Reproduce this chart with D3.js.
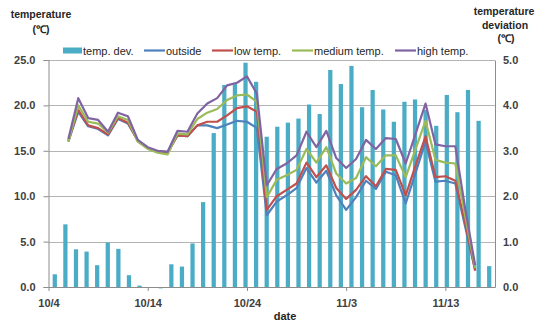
<!DOCTYPE html>
<html>
<head>
<meta charset="utf-8">
<script src="https://cdn.jsdelivr.net/npm/d3@7"></script>
<style>
  html, body { margin: 0; padding: 0; background: #fff; }
  svg { display: block; }
  text { font-family: "Liberation Sans", Arial, sans-serif; }
</style>
</head>
<body>
<svg id="chart" width="537" height="323"></svg>
<script>
// Daily readings, 10/6 .. 11/16
const dates = ["10/6","10/7","10/8","10/9","10/10","10/11","10/12","10/13","10/14","10/15",
  "10/16","10/17","10/18","10/19","10/20","10/21","10/22","10/23","10/24","10/25",
  "10/26","10/27","10/28","10/29","10/30","10/31","11/1","11/2","11/3","11/4",
  "11/5","11/6","11/7","11/8","11/9","11/10","11/11","11/12","11/13","11/14",
  "11/15","11/16"];

// temperature deviation (right axis, ℃)
const tempDev = [0.28,1.38,0.83,0.78,0.48,0.98,0.84,0.26,0.03,-0.02,
  -0.03,0.50,0.45,0.96,1.87,3.39,4.45,4.47,4.94,4.52,
  3.31,3.53,3.62,3.71,4.02,3.81,4.78,4.47,4.87,3.96,
  4.34,3.91,3.64,4.08,4.13,3.90,3.55,4.23,3.85,4.34,
  3.66,0.46];

// temperatures (left axis, ℃)
const outside = [16.0,19.3,17.7,17.4,16.7,18.5,18.0,16.1,15.3,14.9,
  14.8,16.7,16.6,17.8,17.8,17.5,17.9,18.3,18.2,17.5,
  7.9,9.4,10.1,10.9,13.1,11.5,12.8,10.1,8.5,9.9,
  11.7,10.8,12.7,12.3,9.2,12.6,16.0,11.6,11.7,11.4,
  6.6,1.9];
const lowTemp = [16.1,19.5,17.8,17.5,16.8,18.6,18.1,16.1,15.3,14.9,
  14.8,16.7,16.6,17.8,18.2,18.2,18.9,19.7,19.9,19.3,
  8.5,10.0,10.7,11.4,13.7,12.1,13.4,10.9,9.7,10.7,
  12.2,11.1,13.0,12.9,10.1,13.4,16.6,12.1,12.2,11.7,
  7.0,1.8];
const mediumTemp = [16.0,20.0,18.2,18.0,17.0,18.8,18.4,16.0,15.2,14.8,
  14.6,16.9,16.8,18.5,19.2,19.6,20.6,21.1,21.2,20.4,
  9.9,11.8,12.3,12.9,15.2,13.7,15.4,12.5,11.4,12.0,
  14.3,13.3,14.5,14.5,12.1,15.2,18.3,14.0,13.7,13.6,
  7.8,2.1];
const highTemp = [16.3,20.8,18.6,18.4,17.1,19.2,18.8,16.2,15.4,15.0,
  14.9,17.2,17.1,19.1,20.2,20.8,22.2,22.5,23.2,21.3,
  11.2,13.0,13.6,14.5,17.1,15.4,17.2,14.2,13.1,14.1,
  16.2,15.2,16.4,16.3,13.6,16.9,20.2,15.7,15.5,15.5,
  8.6,2.4];

const dateTicks = ["10/4","10/14","10/24","11/3","11/13"];
const leftTicks = [0, 5, 10, 15, 20, 25];
const rightTicks = [0, 1, 2, 3, 4, 5];

const seriesNames = ["outside", "low temp.", "medium temp.", "high temp."];
const seriesColors = ["#4f81bd", "#c0504d", "#9bbb59", "#8064a2"];
const barColor = "#4bacc6";

const YEAR = 2012;
const parseMD = s => { const [m, d] = s.split("/").map(Number); return new Date(YEAR, m - 1, d); };

const svg = d3.select("#chart");
const plot = { left: 48.5, right: 495, top: 60, bottom: 287 };

// scales
const xTime = d3.scaleTime()
  .domain([parseMD("10/4"), parseMD("11/18")])
  .range([plot.left, plot.right]);
const xBand = d3.scaleBand()
  .domain(dates)
  .range([49.5, 494.5])
  .paddingInner(0.6)
  .paddingOuter(0.3);
const yL = d3.scaleLinear().domain([0, 25]).range([plot.bottom, plot.top]);
const yR = d3.scaleLinear().domain([0, 5]).range([plot.bottom, plot.top]);

// gridlines
svg.append("g")
  .selectAll("line")
  .data(leftTicks.filter(v => v > 0))
  .join("line")
  .attr("x1", plot.left).attr("x2", plot.right)
  .attr("y1", d => Math.round(yL(d)) + 0.5).attr("y2", d => Math.round(yL(d)) + 0.5)
  .attr("stroke", "#b4b4b4").attr("stroke-width", 1);

// deviation bars
svg.append("g")
  .selectAll("rect")
  .data(dates.map((d, i) => ({ d, v: tempDev[i] })))
  .join("rect")
  .attr("x", p => xBand(p.d))
  .attr("width", xBand.bandwidth())
  .attr("y", p => yR(Math.max(0, p.v)))
  .attr("height", p => Math.abs(yR(p.v) - yR(0)))
  .attr("fill", barColor);

// temperature lines
const allSeries = [outside, lowTemp, mediumTemp, highTemp];
const line = d3.line()
  .x(p => xTime(parseMD(p.d)))
  .y(p => yL(p.v));
svg.append("g")
  .selectAll("path")
  .data(allSeries)
  .join("path")
  .attr("d", s => line(dates.map((d, i) => ({ d, v: s[i] }))))
  .attr("fill", "none")
  .attr("stroke", (s, i) => seriesColors[i])
  .attr("stroke-width", 2.2)
  .attr("stroke-linejoin", "round");

// axes
const axisColor = "#8c8c8c";
const tickFont = g => g.selectAll("text")
  .attr("font-size", "11px").attr("font-weight", "bold").attr("fill", "#404040");

const gL = svg.append("g").attr("transform", `translate(${plot.left},0)`)
  .call(d3.axisLeft(yL).tickValues(leftTicks).tickFormat(d3.format(".1f")).tickSize(5).tickPadding(8));
gL.call(tickFont);
gL.selectAll("line, path").attr("stroke", axisColor);

const gR = svg.append("g").attr("transform", `translate(${plot.right},0)`)
  .call(d3.axisRight(yR).tickValues(rightTicks).tickFormat(d3.format(".1f")).tickSize(0).tickPadding(8));
gR.call(tickFont);
gR.selectAll("line, path").attr("stroke", axisColor);

const gB = svg.append("g").attr("transform", `translate(0,${plot.bottom})`)
  .call(d3.axisBottom(xTime).tickValues(dateTicks.map(parseMD))
    .tickFormat((d, i) => dateTicks[i]).tickSize(4).tickSizeOuter(0).tickPadding(8));
gB.call(tickFont);
gB.selectAll("line, path").attr("stroke", axisColor);

// axis titles
const title = (x, y, t, anchor) => svg.append("text")
  .attr("x", x).attr("y", y).attr("text-anchor", anchor || "middle")
  .attr("font-size", "10.5px").attr("font-weight", "bold").attr("fill", "#262626").text(t);
title(41, 18, "temperature");
title(41, 33, "(℃)");
title(504, 15, "temperature");
title(505, 28.5, "deviation");
title(506, 42, "(℃)");
title(285, 320, "date").attr("font-size", "11px");

// legend
const legend = svg.append("g").attr("font-size", "11px");
legend.append("rect").attr("x", 63).attr("y", 47.5).attr("width", 19).attr("height", 6).attr("fill", barColor);
legend.append("text").attr("x", 83).attr("y", 54.5).attr("fill", "#262626").text("temp. dev.");
const legendX = [144, 212, 292, 395];
seriesNames.forEach((name, i) => {
  legend.append("line")
    .attr("x1", legendX[i]).attr("x2", legendX[i] + 21)
    .attr("y1", 50.5).attr("y2", 50.5)
    .attr("stroke", seriesColors[i]).attr("stroke-width", 2.2);
  legend.append("text").attr("x", legendX[i] + 22).attr("y", 54.5)
    .attr("fill", "#262626").text(name);
});
</script>
</body>
</html>
